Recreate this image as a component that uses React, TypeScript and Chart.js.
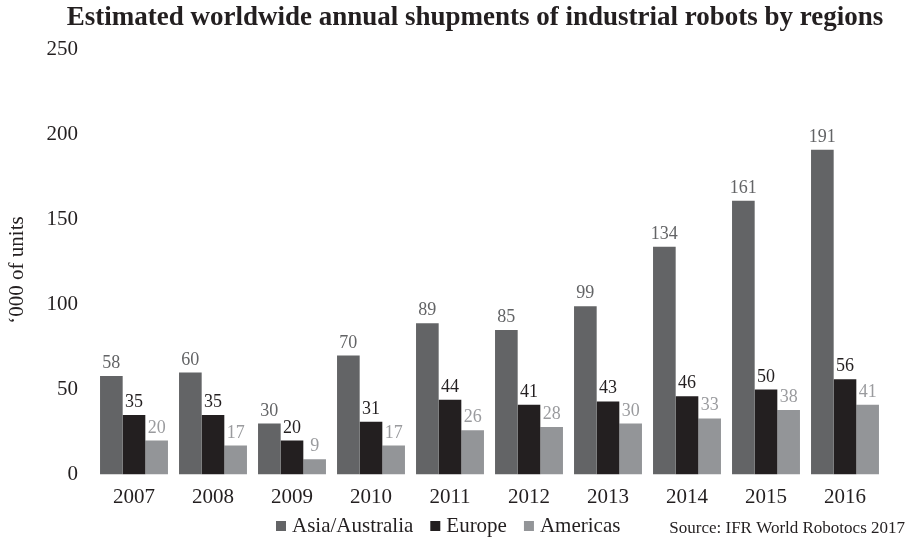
import React, { useEffect, useRef } from "react";
import { Chart, registerables } from "chart.js";

Chart.register(...registerables);

const TITLE = "Estimated worldwide annual shupments of industrial robots by regions";
const Y_TITLE = "\u2018000 of units";
const SOURCE = "Source: IFR World Robotocs 2017";

const years = ["2007", "2008", "2009", "2010", "2011", "2012", "2013", "2014", "2015", "2016"];
const asia = [58, 60, 30, 70, 89, 85, 99, 134, 161, 191];
const europe = [35, 35, 20, 31, 44, 41, 43, 46, 50, 56];
const americas = [20, 17, 9, 17, 26, 28, 30, 33, 38, 41];
const seriesNames = ["Asia/Australia", "Europe", "Americas"];
const barColors = ["#636466", "#231f20", "#939598"];
const labelColors = ["#636466", "#231f20", "#9a9b9e"];
const yTicks = [0, 50, 100, 150, 200, 250];

const SERIF = "'Liberation Serif', 'Times New Roman', serif";
const TEXT = "#231f20";

const extrasPlugin = {
  id: "extras",
  afterDatasetsDraw(chart: any) {
    const ctx = chart.ctx;
    ctx.save();
    // data labels
    ctx.font = `18px ${SERIF}`;
    ctx.textAlign = "center";
    ctx.textBaseline = "alphabetic";
    chart.data.datasets.forEach((ds: any, i: number) => {
      const meta = chart.getDatasetMeta(i);
      ctx.fillStyle = labelColors[i];
      meta.data.forEach((el: any, j: number) => {
        ctx.fillText(String(ds.data[j]), el.x, el.y - 8);
      });
    });
    // title
    ctx.fillStyle = TEXT;
    ctx.font = `bold 27px ${SERIF}`;
    ctx.textAlign = "center";
    ctx.fillText(TITLE, 475, 25);
    // y title
    ctx.save();
    ctx.translate(23, 270);
    ctx.rotate(-Math.PI / 2);
    ctx.font = `21px ${SERIF}`;
    ctx.textAlign = "center";
    ctx.fillText(Y_TITLE, 0, 0);
    ctx.restore();
    // legend
    ctx.font = `21px ${SERIF}`;
    ctx.textAlign = "left";
    let x = 276;
    const base = 532;
    seriesNames.forEach((name, i) => {
      ctx.fillStyle = barColors[i];
      ctx.fillRect(x, base - 11, 10, 10);
      x += 16;
      ctx.fillStyle = TEXT;
      ctx.fillText(name, x, base);
      x += ctx.measureText(name).width + 17;
    });
    // source
    ctx.font = `17px ${SERIF}`;
    ctx.textAlign = "right";
    ctx.fillStyle = TEXT;
    ctx.fillText(SOURCE, 905, 533);
    ctx.restore();
  },
};

export default function App() {
  const ref = useRef<HTMLCanvasElement>(null);
  useEffect(() => {
    document.body.style.margin = "0";
    document.body.style.overflow = "hidden";
    const chart = new Chart(ref.current!, {
      type: "bar",
      data: {
        labels: years,
        datasets: [asia, europe, americas].map((d, i) => ({
          label: seriesNames[i],
          data: d,
          backgroundColor: barColors[i],
          borderWidth: 0,
          categoryPercentage: 0.86,
          barPercentage: 1,
        })),
      },
      options: {
        animation: false,
        responsive: false,
        layout: { padding: { top: 49.5, right: 27.5, bottom: 0, left: 0 } },
        plugins: {
          legend: { display: false },
          title: { display: false },
          tooltip: { enabled: false },
        },
        scales: {
          x: {
            grid: { display: false, drawTicks: false },
            border: { display: false },
            ticks: { color: TEXT, font: { family: SERIF, size: 21 }, padding: 10 },
            afterFit: (s: any) => { s.height = 64.5; },
          },
          y: {
            min: 0,
            max: 250,
            afterBuildTicks: (s: any) => { s.ticks = yTicks.map((v) => ({ value: v })); },
            grid: { display: false, drawTicks: false },
            border: { display: false },
            ticks: { color: TEXT, font: { family: SERIF, size: 21 }, padding: 16.5 },
            afterFit: (s: any) => { s.width = 94.5; },
          },
        },
      },
      plugins: [extrasPlugin],
    });
    return () => chart.destroy();
  }, []);
  return <canvas ref={ref} width={912} height={539} style={{ display: "block" }} />;
}
